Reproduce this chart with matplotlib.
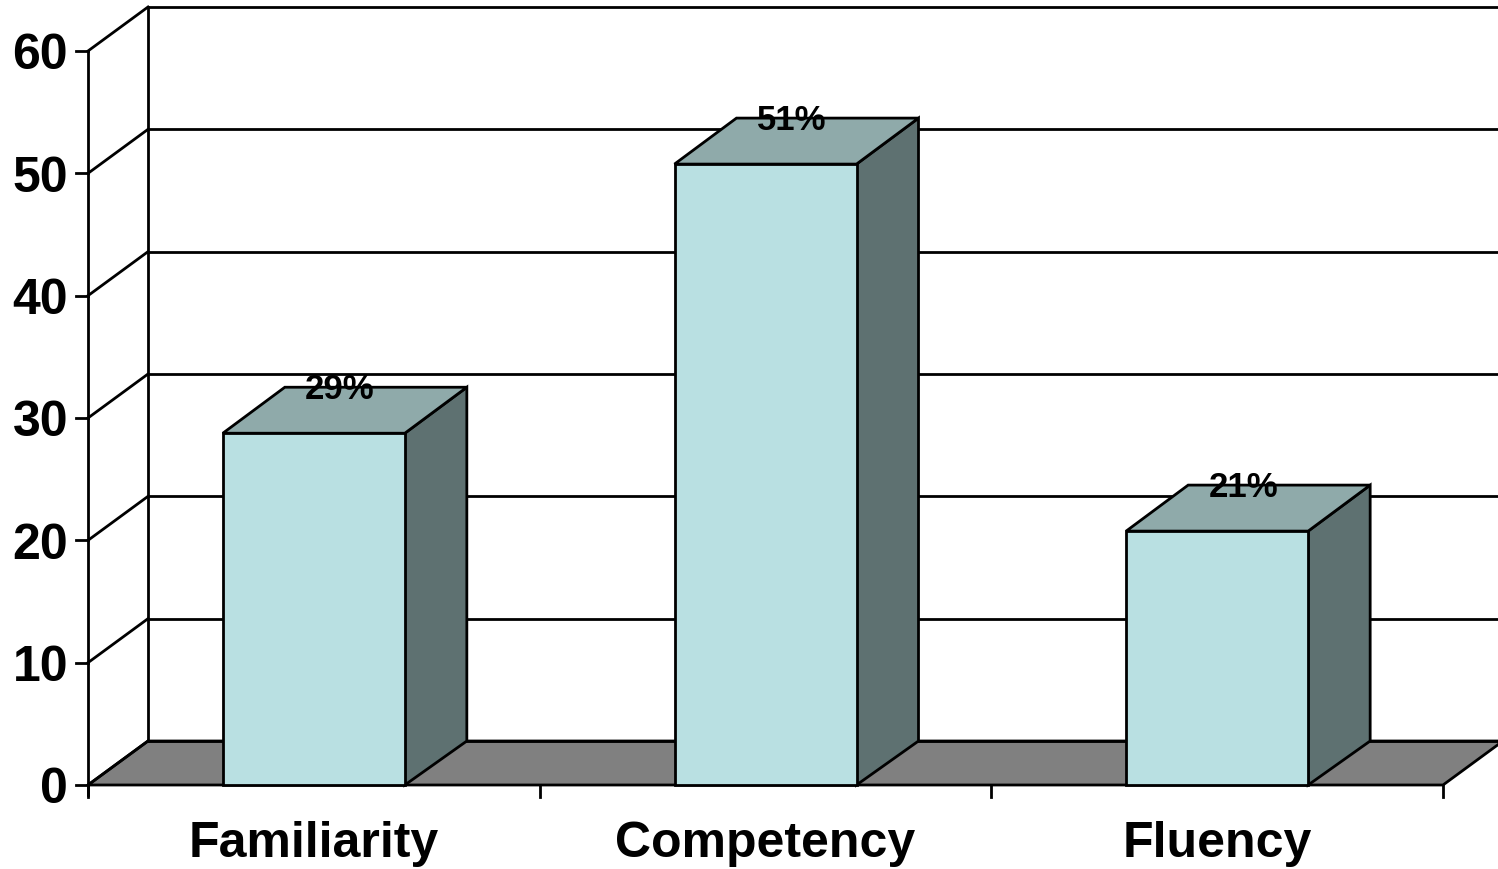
import numpy as np
import matplotlib
matplotlib.use('Agg')
import matplotlib.pyplot as plt
from matplotlib.patches import Polygon

categories = ['Familiarity', 'Competency', 'Fluency']
values = [29, 51, 21]
labels = ['29%', '51%', '21%']
yticks = [0, 10, 20, 30, 40, 50, 60]

plt.rcParams['font.family'] = ['Liberation Sans', 'DejaVu Sans']

W, H = 1498, 869
fig = plt.figure(figsize=(W / 100, H / 100), dpi=100)
ax = fig.add_axes([0, 0, 1, 1])

# pixel layout of the front plane
px0, py0 = 88, 785
px_per_cat = (1443 - 88) / 3
px_per_val = (785 - 51) / 60
ax.set_xlim(-px0 / px_per_cat, (W - px0) / px_per_cat)
ax.set_ylim((py0 - H) / px_per_val, py0 / px_per_val)
ax.axis('off')

# depth offsets (data units)
wdx, wdy = 60 / px_per_cat, 44 / px_per_val
bdx, bdy = 62 / px_per_cat, 46 / px_per_val
lw = 2.0
n = len(categories)
top = yticks[-1]

# floor
ax.add_patch(Polygon([(0, 0), (n, 0), (n + wdx, wdy), (wdx, wdy)], closed=True,
                     facecolor='#808080', edgecolor='black', lw=lw, zorder=1))

# back wall lines and side wall diagonals
ax.plot([wdx, wdx], [wdy, top + wdy], color='black', lw=lw, zorder=2)
for t in yticks:
    ax.plot([wdx, n + 1], [t + wdy, t + wdy], color='black', lw=lw, zorder=2)
    ax.plot([0, wdx], [t, t + wdy], color='black', lw=lw, zorder=2)
    ax.plot([-12 / px_per_cat, 0], [t, t], color='black', lw=lw, zorder=2)
    ax.text(-20 / px_per_cat, t - 1.5, str(t), ha='right', va='baseline',
            fontsize=36, fontweight='bold')

# front value axis and category ticks
ax.plot([0, 0], [-10 / px_per_val, top], color='black', lw=lw, zorder=5)
for i in range(n + 1):
    ax.plot([i, i], [0, -12 / px_per_val], color='black', lw=lw, zorder=5)

# bars
bw = 182 / px_per_cat
sink = 3 / px_per_val  # front face top sits a little lower (perspective)
for i, (cat, v, lab) in enumerate(zip(categories, values, labels)):
    xc = i + 0.5
    x0, x1 = xc - bw / 2, xc + bw / 2
    vf = v - sink
    side = [(x1, 0), (x1 + bdx, wdy), (x1 + bdx, vf + bdy), (x1, vf)]
    topf = [(x0, vf), (x1, vf), (x1 + bdx, vf + bdy), (x0 + bdx, vf + bdy)]
    front = [(x0, 0), (x1, 0), (x1, vf), (x0, vf)]
    ax.add_patch(Polygon(side, closed=True, facecolor='#5E7171', edgecolor='black', lw=lw, zorder=3))
    ax.add_patch(Polygon(topf, closed=True, facecolor='#8FAAAA', edgecolor='black', lw=lw, zorder=3))
    ax.add_patch(Polygon(front, closed=True, facecolor='#B9E0E2', edgecolor='black', lw=lw, zorder=4))
    ax.text(xc + 26 / px_per_cat, v + 31 / px_per_val, lab, ha='center', va='baseline',
            fontsize=25, fontweight='bold', zorder=6)
    ax.text(xc, -72 / px_per_val, cat, ha='center', va='baseline',
            fontsize=36, fontweight='bold')

fig.savefig('out.png', dpi=100)
